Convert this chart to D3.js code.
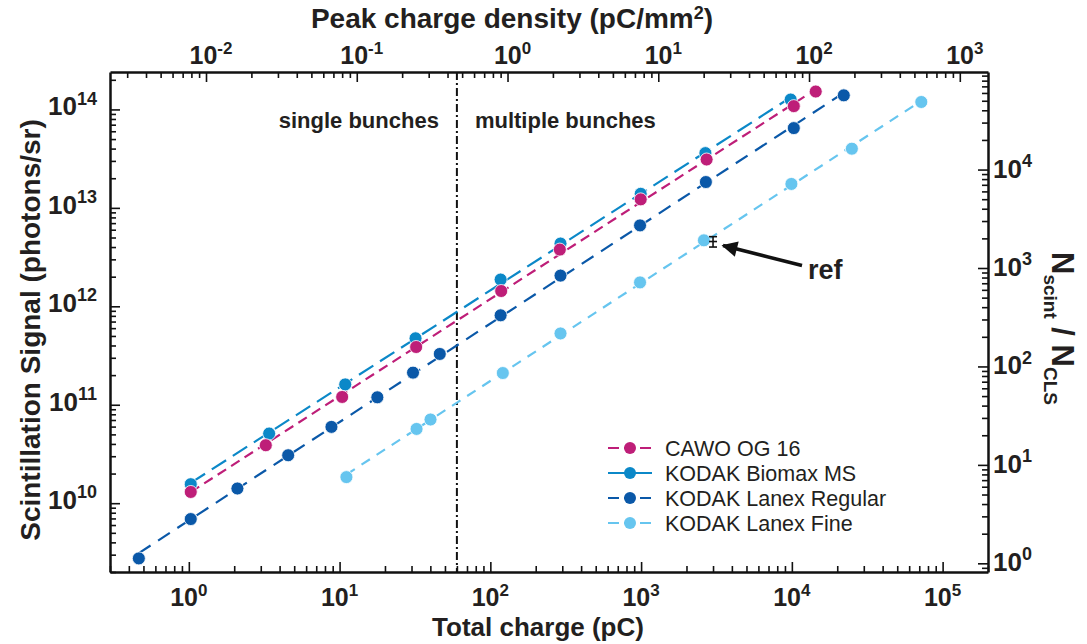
<!DOCTYPE html>
<html>
<head>
<meta charset="utf-8">
<script src="https://cdn.jsdelivr.net/npm/d3@7"></script>
<style>
  body { margin: 0; background: #fff; }
  text { font-family: "Liberation Sans", Arial, Helvetica, sans-serif; fill: #231f20; }
</style>
</head>
<body>
<script>
// total charge (pC) and scintillation signal (photons/sr) per screen
var cawoQ    = [1.03, 3.24, 10.4, 32.2, 118, 289, 994, 2720, 10300, 14400];
var cawoS    = [1.30e10, 3.88e10, 1.20e11, 3.86e11, 1.43e12, 3.77e12, 1.22e13, 3.10e13, 1.08e14, 1.52e14];
var biomaxQ  = [1.03, 3.41, 10.9, 31.9, 117, 292, 994, 2670, 9820];
var biomaxS  = [1.56e10, 5.10e10, 1.61e11, 4.73e11, 1.87e12, 4.34e12, 1.39e13, 3.60e13, 1.26e14];
var regularQ = [0.466, 1.03, 2.10, 4.56, 8.83, 17.8, 30.7, 46.2, 117, 292, 984, 2690, 10300, 22100];
var regularS = [2.75e9, 6.9e9, 1.41e10, 3.07e10, 5.96e10, 1.19e11, 2.12e11, 3.28e11, 8.1e11, 2.05e12, 6.64e12, 1.83e13, 6.46e13, 1.39e14];
var fineQ    = [11.1, 32.4, 40.1, 121, 292, 984, 2610, 9930, 25000, 72200];
var fineS    = [1.84e10, 5.68e10, 7.08e10, 2.10e11, 5.30e11, 1.75e12, 4.68e12, 1.75e13, 3.99e13, 1.19e14];

var seriesNames  = ['CAWO OG 16', 'KODAK Biomax MS', 'KODAK Lanex Regular', 'KODAK Lanex Fine'];
var seriesColors = ['#be1e78', '#0b88c8', '#0a58a8', '#66c5ef'];
var seriesDash   = ['10,6', '17,8', '14,9', '10,8'];

// reference measurement with error bar
var refQ = 3000;
var refS = [4.0e12, 4.55e12, 5.1e12];

var splitCharge = 60;           // single / multiple bunch boundary (pC)
var densityPerCharge = 1 / 130; // peak density (pC/mm^2) per pC
var clsSignal = 2.45e9;         // N_CLS in photons/sr

var xDomain = [0.30, 2.0e5];
var yDomain = [2.0e9, 2.4e14];

var W = 1087, H = 644;
var L = 110, R = 988, T = 72, B = 572;

var svg = d3.select('body').append('svg')
  .attr('width', W).attr('height', H);

var x = d3.scaleLog().domain(xDomain).range([L, R]);
var xTop = d3.scaleLog().domain(xDomain.map(d => d * densityPerCharge)).range([L, R]);
var y = d3.scaleLog().domain(yDomain).range([B, T]);
var yRight = d3.scaleLog().domain(yDomain.map(d => d / clsSignal)).range([B, T]);

function isMajor(d) {
  var l = Math.log10(d);
  return Math.abs(l - Math.round(l)) < 1e-6;
}

// axes: ticks inward, no default labels
function drawAxis(axis, scale, tx, ty, dir) {
  var g = svg.append('g')
    .attr('transform', 'translate(' + tx + ',' + ty + ')')
    .call(axis(scale).tickValues(scale.ticks()).tickFormat('').tickSizeOuter(0));
  g.select('.domain').attr('stroke', '#111').attr('stroke-width', 2.5);
  g.selectAll('.tick line')
    .attr('stroke', '#111').attr('stroke-width', 1.6)
    .each(function(d) {
      var len = isMajor(d) ? 10 : 6;
      var s = d3.select(this);
      if (dir === 'x') s.attr('y2', ty === B ? -len : len);
      else s.attr('x2', tx === L ? len : -len);
    });
  return g;
}
drawAxis(d3.axisBottom, x, 0, B, 'x');
drawAxis(d3.axisTop, xTop, 0, T, 'x');
drawAxis(d3.axisLeft, y, L, 0, 'y');
drawAxis(d3.axisRight, yRight, R, 0, 'y');

// power-of-ten labels
function powLabel(g, v, size, sup, anchor) {
  var t = g.append('text').attr('text-anchor', anchor)
    .style('font-weight', 'bold').style('font-size', size + 'px');
  t.append('tspan').text('10');
  t.append('tspan').attr('dy', -size * 0.42).style('font-size', sup + 'px')
    .text(String(Math.round(Math.log10(v))));
  return t;
}
var labels = svg.append('g');
x.ticks().filter(isMajor).forEach(function(v) {
  powLabel(labels, v, 25, 17, 'middle').attr('x', x(v)).attr('y', 606);
});
xTop.ticks().filter(isMajor).forEach(function(v) {
  powLabel(labels, v, 25, 17, 'middle').attr('x', xTop(v) + 5).attr('y', 64);
});
y.ticks().filter(isMajor).forEach(function(v) {
  powLabel(labels, v, 26, 18, 'end').attr('x', 97).attr('y', y(v) + 6);
});
yRight.ticks().filter(isMajor).forEach(function(v) {
  powLabel(labels, v, 26, 18, 'start').attr('x', 993).attr('y', yRight(v) + 8);
});

// axis titles
svg.append('text').attr('x', 538).attr('y', 636).attr('text-anchor', 'middle')
  .style('font-weight', 'bold').style('font-size', '26px').text('Total charge (pC)');
var tt = svg.append('text').attr('x', 512).attr('y', 28).attr('text-anchor', 'middle')
  .style('font-weight', 'bold').style('font-size', '28px');
tt.append('tspan').text('Peak charge density (pC/mm');
tt.append('tspan').attr('dy', -9).style('font-size', '18px').text('2');
tt.append('tspan').attr('dy', 9).text(')');

svg.append('text').attr('transform', 'translate(40,330) rotate(-90)').attr('text-anchor', 'middle')
  .style('font-weight', 'bold').style('font-size', '28px').text('Scintillation Signal (photons/sr)');

var rt = svg.append('text').attr('transform', 'translate(1052,252) rotate(90)')
  .style('font-weight', 'bold').style('font-size', '31px');
rt.append('tspan').text('N');
rt.append('tspan').attr('dy', 8).style('font-size', '19px').text('scint');
rt.append('tspan').attr('dy', -8).text(' / N');
rt.append('tspan').attr('dy', 8).style('font-size', '19px').text('CLS');

// single / multiple bunches boundary
svg.append('line')
  .attr('x1', x(splitCharge)).attr('x2', x(splitCharge))
  .attr('y1', T).attr('y2', B)
  .attr('stroke', '#111').attr('stroke-width', 2)
  .attr('stroke-dasharray', '8,3,2,3');
svg.append('text').attr('x', x(splitCharge) - 18).attr('y', 128).attr('text-anchor', 'end')
  .style('font-weight', 'bold').style('font-size', '22px').text('single bunches');
svg.append('text').attr('x', x(splitCharge) + 18).attr('y', 128)
  .style('font-weight', 'bold').style('font-size', '22px').text('multiple bunches');

// series
var allQ = [cawoQ, biomaxQ, regularQ, fineQ];
var allS = [cawoS, biomaxS, regularS, fineS];
var series = seriesNames.map(function(name, i) {
  return {
    name: name, color: seriesColors[i], dash: seriesDash[i],
    pts: allQ[i].map((q, j) => ({ q: q, s: allS[i][j] }))
  };
});

// straight power-law fit in log-log space
function fit(pts) {
  var lx = pts.map(p => Math.log10(p.q)), ly = pts.map(p => Math.log10(p.s));
  var mx = d3.mean(lx), my = d3.mean(ly);
  var num = d3.sum(lx, (v, i) => (v - mx) * (ly[i] - my));
  var den = d3.sum(lx, v => (v - mx) * (v - mx));
  var k = num / den, b = my - k * mx;
  var q0 = d3.min(pts, p => p.q), q1 = d3.max(pts, p => p.q);
  return [q0, q1].map(q => ({ q: q, s: Math.pow(10, b + k * Math.log10(q)) }));
}

var line = d3.line().x(d => x(d.q)).y(d => y(d.s));
var drawOrder = [3, 2, 1, 0];
drawOrder.forEach(function(i) {
  var s = series[i];
  svg.append('path').datum(fit(s.pts))
    .attr('d', line).attr('fill', 'none')
    .attr('stroke', s.color).attr('stroke-width', 2.2)
    .attr('stroke-dasharray', s.dash);
});
drawOrder.forEach(function(i) {
  var s = series[i];
  svg.append('g').selectAll('circle').data(s.pts).enter().append('circle')
    .attr('cx', d => x(d.q)).attr('cy', d => y(d.s)).attr('r', 6.5)
    .attr('fill', s.color).attr('stroke', '#fff').attr('stroke-width', 0.8);
});

// reference error bar + arrow
var eb = svg.append('g').attr('stroke', '#111').attr('stroke-width', 1.6);
eb.append('line').attr('x1', x(refQ)).attr('x2', x(refQ)).attr('y1', y(refS[0])).attr('y2', y(refS[2]));
refS.forEach(function(v) {
  eb.append('line').attr('x1', x(refQ) - 4).attr('x2', x(refQ) + 4).attr('y1', y(v)).attr('y2', y(v));
});
svg.append('defs').append('marker')
  .attr('id', 'arr').attr('viewBox', '0 0 10 10').attr('refX', 9).attr('refY', 5)
  .attr('markerWidth', 5).attr('markerHeight', 4.5).attr('orient', 'auto')
  .attr('markerUnits', 'strokeWidth')
  .append('path').attr('d', 'M0,0L10,5L0,10z').attr('fill', '#111');
svg.append('line')
  .attr('x1', 802).attr('y1', y(refS[1]) + 24)
  .attr('x2', x(refQ) + 10).attr('y2', y(refS[1]) + 4)
  .attr('stroke', '#111').attr('stroke-width', 3.5).attr('marker-end', 'url(#arr)');
svg.append('text').attr('x', 808).attr('y', y(refS[1]) + 37)
  .style('font-weight', 'bold').style('font-size', '27px').text('ref');

// legend
var leg = svg.append('g').attr('transform', 'translate(608,448)');
series.forEach(function(s, i) {
  var g = leg.append('g').attr('transform', 'translate(0,' + i * 25 + ')');
  g.append('line').attr('x1', 0).attr('x2', 44).attr('y1', 0).attr('y2', 0)
    .attr('stroke', s.color).attr('stroke-width', 2.2)
    .attr('stroke-dasharray', i === 1 ? null : '11,5');
  g.append('circle').attr('cx', 22).attr('cy', 0).attr('r', 6).attr('fill', s.color);
  g.append('text').attr('x', 57).attr('y', 7.5).style('font-size', '21.5px').text(s.name);
});
</script>
</body>
</html>
